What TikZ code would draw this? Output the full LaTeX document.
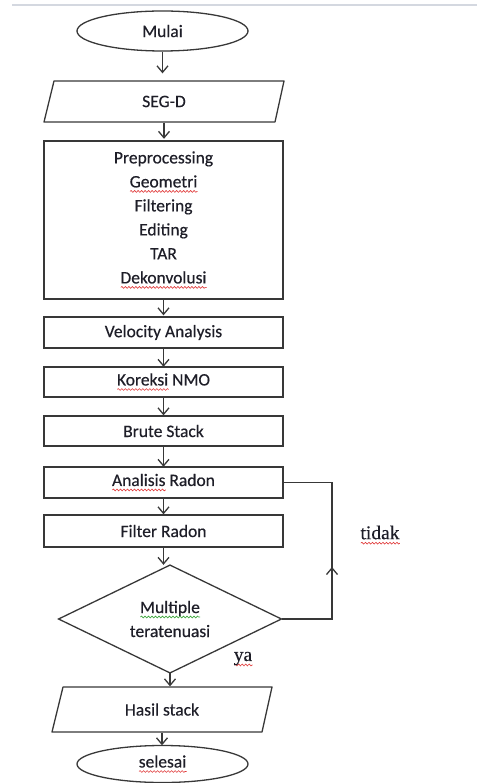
\documentclass[tikz,border=0pt]{standalone}
\usepackage{fontspec}
\setmainfont[FakeBold=0.4,AutoFakeBold=0.4]{Carlito}
\newfontfamily\serifw[FakeBold=0.4,AutoFakeBold=0.4]{Liberation Serif}
\usetikzlibrary{arrows.meta,shapes.geometric,calc,decorations.pathmorphing}
\definecolor{lc}{HTML}{383838}
\definecolor{tc}{HTML}{1E1E28}
\definecolor{sqred}{HTML}{E03A3A}
\definecolor{sqgreen}{HTML}{3AA53A}
\definecolor{topgray}{HTML}{D4D8E0}
\newlength\sqw
\newcommand\squig[2][sqred]{\leavevmode\settowidth{\sqw}{#2}\rlap{\tikz[baseline=0pt,x=1pt,y=1pt]\draw[#1,line width=0.6pt,decorate,decoration={snake,amplitude=0.9pt,segment length=3.5pt}] (0pt,-4pt) -- (\sqw,-4pt);}#2}
\begin{document}
\begin{tikzpicture}[x=1pt,y=-1pt,line width=1.3pt,
  every node/.style={font=\fontsize{17.5}{24}\selectfont, text=tc},
  box/.style={draw=lc, rectangle, minimum width=239pt, inner sep=0pt},
  plainbox/.style={rectangle, inner sep=0pt},
  ell/.style={draw=lc, ellipse, inner sep=0pt, minimum width=171pt},
  shp/.style={draw=lc, line join=round},
  ln/.style={draw=lc},
  arr/.style={draw=lc, -{Straight Barb[length=6.5pt,width=11pt]}},
  lab/.style={font=\fontsize{19.5}{22}\selectfont\serifw}]
\useasboundingbox (0,0) rectangle (477,783);
\draw[topgray, line width=1.5pt] (12,5) -- (477,5);

\node[ell, minimum height=40pt] (start) at (162.5,31) {Mulai};

\node[plainbox, minimum width=240pt, minimum height=41pt] (seg) at (164,101.5) {SEG-D};
\draw[shp] (54,81) -- (284,81) -- (275,122) -- (44,122) -- cycle;

\node[box, minimum height=158pt, align=center] (pre) at (163.5,220)
  {Preprocessing\\ \squig{Geometri}\\ Filtering\\ Editing\\ TAR\\ \squig{Dekonvolusi}};

\node[box, minimum height=31pt] (vel) at (163.5,332.5) {Velocity Analysis};
\node[box, minimum height=30pt] (nmo) at (163.5,382) {\squig{Koreksi} NMO};
\node[box, minimum height=30pt] (bs) at (163.5,431) {Brute Stack};
\node[box, minimum height=31pt] (ar) at (163.5,482.5) {\squig{Analisis} Radon};
\node[box, minimum height=32pt] (fr) at (163.5,531) {Filter Radon};

\node[diamond, draw=lc, minimum width=223pt, minimum height=108pt, shape aspect=2.06,
  inner sep=0pt, align=center] (dm) at (170,619) {\squig[sqgreen]{Multiple}\\ teratenuasi};

\node[plainbox, minimum width=220pt, minimum height=45pt] (has) at (162,709.5) {Hasil stack};
\draw[shp] (63,687) -- (272,687) -- (262,732) -- (52,732) -- cycle;

\node[ell, minimum height=37pt] (fin) at (162.5,764) {\squig{selesai}};

\node[lab] (tidak) at (380,535) {\squig{tidak}};
\node[lab] (ya) at (243,659) {\squig{ya}};

\draw[arr, shorten >=7pt] (start.south) -- (start.south |- seg.north);
\draw[arr, shorten >=2pt] (seg.south) -- (seg.south |- pre.north);
\draw[arr, shorten >=1pt] (pre.south) -- (pre.south |- vel.north);
\draw[arr] (vel.south) -- (vel.south |- nmo.north);
\draw[arr] (nmo.south) -- (nmo.south |- bs.north);
\draw[arr] (bs.south) -- (bs.south |- ar.north);
\draw[arr] (ar.south) -- (ar.south |- fr.north);
\draw[arr] (fr.south) -- (fr.south |- dm.north);
\draw[arr] (dm.south) -- (dm.south |- has.north);
\draw[arr] (has.south) -- (has.south |- fin.north);

\coordinate (c1) at (332,619);
\coordinate (c2) at (332,482.5);
\coordinate (c3) at (332,567);
\draw[ln, line join=miter] (dm.east) -- (c1) -- (c2) -- (ar.east);
\draw[arr] (c1) -- (c3);
\end{tikzpicture}
\end{document}
